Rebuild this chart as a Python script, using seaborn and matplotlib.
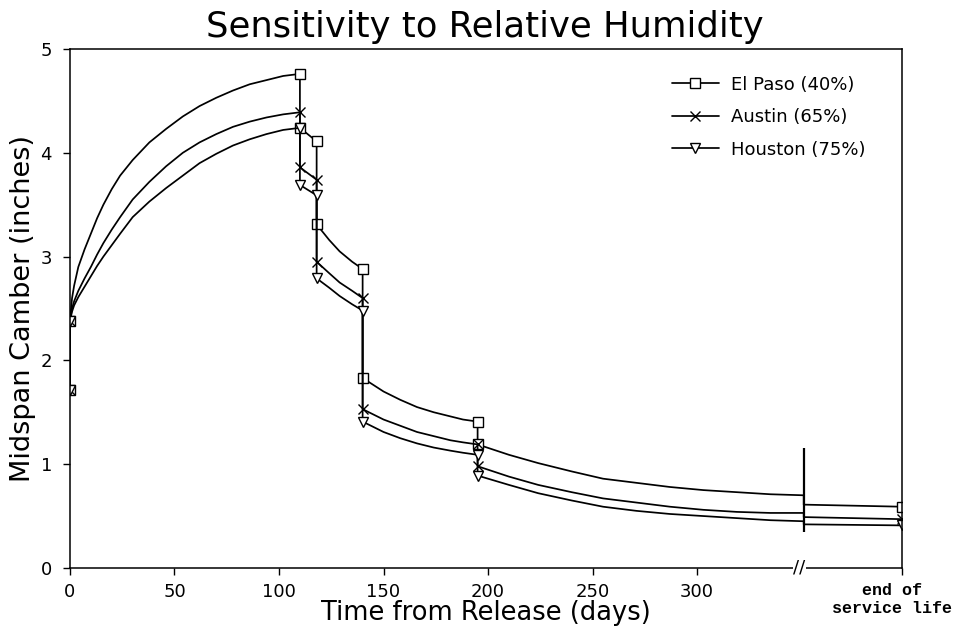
import numpy as np
import pandas as pd
import seaborn as sns
import matplotlib.pyplot as plt
import matplotlib.transforms as mtransforms

# camber at release (before the jump at day 0)
start_day = [0]
el_paso_start = [1.71]
austin_start = [1.71]
houston_start = [1.71]

# creep growth up to the first event at day 110
rise_days = [0, 1, 2, 4, 7, 10, 13, 16, 20, 24, 30, 38, 46, 54, 62, 70, 78, 86, 94, 102, 110]
el_paso_rise = [2.38, 2.60, 2.72, 2.90, 3.07, 3.22, 3.37, 3.50, 3.65, 3.78, 3.93, 4.10, 4.23,
                4.35, 4.45, 4.53, 4.60, 4.66, 4.70, 4.74, 4.76]
austin_rise = [2.38, 2.50, 2.57, 2.67, 2.79, 2.90, 3.02, 3.13, 3.26, 3.38, 3.55, 3.72, 3.87,
               4.00, 4.10, 4.18, 4.25, 4.30, 4.34, 4.37, 4.39]
houston_rise = [2.38, 2.47, 2.53, 2.61, 2.71, 2.81, 2.91, 3.00, 3.11, 3.22, 3.38, 3.53, 3.66,
                3.78, 3.90, 3.99, 4.07, 4.13, 4.18, 4.22, 4.24]

seg2_days = [110, 118]
el_paso_seg2 = [4.24, 4.11]
austin_seg2 = [3.86, 3.74]
houston_seg2 = [3.69, 3.59]

seg3_days = [118, 124, 129, 135, 140]
el_paso_seg3 = [3.31, 3.16, 3.05, 2.95, 2.88]
austin_seg3 = [2.95, 2.84, 2.75, 2.67, 2.60]
houston_seg3 = [2.79, 2.70, 2.62, 2.54, 2.48]

seg4_days = [140, 150, 158, 166, 174, 182, 188, 195]
el_paso_seg4 = [1.83, 1.70, 1.62, 1.55, 1.50, 1.46, 1.43, 1.41]
austin_seg4 = [1.53, 1.43, 1.37, 1.31, 1.27, 1.23, 1.21, 1.19]
houston_seg4 = [1.41, 1.31, 1.25, 1.20, 1.16, 1.13, 1.11, 1.09]

seg5_days = [195, 210, 224, 240, 255, 271, 287, 303, 319, 335, 351]
el_paso_seg5 = [1.19, 1.09, 1.01, 0.93, 0.86, 0.82, 0.78, 0.75, 0.73, 0.71, 0.70]
austin_seg5 = [0.98, 0.88, 0.80, 0.73, 0.67, 0.63, 0.59, 0.56, 0.54, 0.53, 0.53]
houston_seg5 = [0.89, 0.80, 0.72, 0.65, 0.59, 0.55, 0.52, 0.50, 0.48, 0.46, 0.45]

# after the axis break: end of service life
seg6_days = [351, 398]
el_paso_seg6 = [0.61, 0.59]
austin_seg6 = [0.49, 0.47]
houston_seg6 = [0.42, 0.41]

labels = ['El Paso (40%)', 'Austin (65%)', 'Houston (75%)']
tick_days = [0, 50, 100, 150, 200, 250, 300]
BREAK_DAY = 351
END_POS = 398

all_days = [start_day, rise_days, seg2_days, seg3_days, seg4_days, seg5_days, seg6_days]
series = [
    [el_paso_start, el_paso_rise, el_paso_seg2, el_paso_seg3, el_paso_seg4, el_paso_seg5, el_paso_seg6],
    [austin_start, austin_rise, austin_seg2, austin_seg3, austin_seg4, austin_seg5, austin_seg6],
    [houston_start, houston_rise, houston_seg2, houston_seg3, houston_seg4, houston_seg5, houston_seg6],
]

# markers go on the ends of each segment (except at the break)
days = []
marked = []
for i, d in enumerate(all_days):
    n0 = len(days)
    days += d
    marked.append(n0)
    if i != 5:
        marked.append(len(days) - 1)
marked = sorted(set(marked) - {len(days) - 2})

sns.set_style('ticks')
plt.rcParams['font.family'] = ['DejaVu Sans']
plt.rcParams['text.color'] = 'black'
plt.rcParams['axes.labelcolor'] = 'black'
plt.rcParams['xtick.color'] = 'black'
plt.rcParams['ytick.color'] = 'black'

fig = plt.figure(figsize=(9.57, 6.36), dpi=100)
ax = fig.add_axes([0.0731, 0.107, 0.8694, 0.816])

styles = [dict(marker='s', mfc='white', ms=7),
          dict(marker='x', ms=7),
          dict(marker='v', mfc='white', ms=7)]

for segs, lab, st in zip(series, labels, styles):
    vals = [v for s in segs for v in s]
    df = pd.DataFrame({'day': days, 'camber': vals})
    sns.lineplot(data=df, x='day', y='camber', sort=False, estimator=None, color='black',
                 lw=1.25, mec='black', mew=1.0, markevery=marked, label=lab, ax=ax, **st)

# axis break
ax.vlines(BREAK_DAY, 0.35, 1.16, color='black', lw=1.6)
ax.text(BREAK_DAY - 2, 0, '//', ha='center', va='center', fontsize=13, zorder=6,
        clip_on=False, bbox=dict(facecolor='white', edgecolor='none', pad=0.5))

ax.set_xlim(0, END_POS)
ax.set_ylim(0, 5)
ax.set_yticks([0, 1, 2, 3, 4, 5])
ax.set_xticks(tick_days + [END_POS])
ax.set_xticklabels([str(d) for d in tick_days] + ['end of\nservice life'])
ax.tick_params(axis='both', direction='out', length=5, width=1, labelsize=13, pad=6)
ax.tick_params(axis='y', pad=8)

end_lab = ax.get_xticklabels()[-1]
end_lab.set_fontfamily('Liberation Mono')
end_lab.set_fontweight('bold')
end_lab.set_fontsize(12)
end_lab.set_transform(end_lab.get_transform() +
                      mtransforms.ScaledTranslation(-10 / 100, 0, fig.dpi_scale_trans))

for s in ax.spines.values():
    s.set_visible(True)
    s.set_linewidth(1.1)
    s.set_color('black')

ax.set_xlabel('Time from Release (days)', fontsize=18.5)
ax.xaxis.label.set_va('center')
ax.xaxis.set_label_coords(0.5, -0.086)
ax.set_ylabel('Midspan Camber (inches)', fontsize=19.5)
ax.yaxis.label.set_va('center')
ax.yaxis.set_label_coords(-0.057, 0.5)
fig.text(0.507, 0.958, 'Sensitivity to Relative Humidity', ha='center', va='center', fontsize=25.5)

ax.legend(loc='upper left', bbox_to_anchor=(0.702, 0.881), bbox_transform=fig.transFigure,
          frameon=False, fontsize=13, handlelength=2.6, handletextpad=0.7, labelspacing=0.8,
          borderpad=0, borderaxespad=0)

fig.savefig('out.png', dpi=100)
